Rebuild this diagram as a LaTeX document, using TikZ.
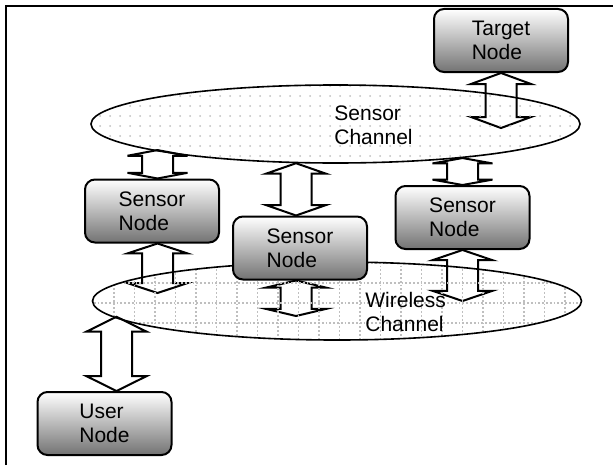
\documentclass[tikz,border=0pt]{standalone}
\usepackage{fontspec}
\setmainfont{Liberation Sans}
\usetikzlibrary{shapes.geometric,calc,backgrounds}

\begin{document}
\begin{tikzpicture}[x=0.5pt,y=-0.5pt,
    unitbox/.style={draw, line width=1pt, rounded corners=5pt, top color=white,
      bottom color=black!55, minimum width=67pt, minimum height=31.5pt,
      inner sep=0pt, align=left, font=\fontsize{10.5}{12}\selectfont},
    chan/.style={draw, ellipse, line width=0.8pt, inner sep=0pt,
      minimum width=244.5pt, minimum height=39pt},
    chantext/.style={anchor=west, inner sep=0pt, align=left,
      font=\fontsize{10.5}{12}\selectfont},
    link/.style={draw, line width=1pt, fill=white,
      to path={let \p1=(\tikztostart), \p2=(\tikztotarget), \n1={0.2*(\y2-\y1)} in
        (\x1,\y1) -- (\x1+15pt,\y1+\n1) -- (\x1+7.75pt,\y1+\n1) -- (\x1+7.75pt,\y2-\n1)
        -- (\x1+15pt,\y2-\n1) -- (\x1,\y2) -- (\x1-15pt,\y2-\n1) -- (\x1-7.75pt,\y2-\n1)
        -- (\x1-7.75pt,\y1+\n1) -- (\x1-15pt,\y1+\n1) -- cycle}},
    gridline/.style={gray!50, line width=0.9pt, dash pattern=on 0.9pt off 1pt}]

% canvas and frame
\useasboundingbox (0,0) rectangle (613,465);
\draw[line width=1pt] (6,465) |- (613,6);

% channels
\node[chan] (sch) at (335.5,124) {};
\node[chan] (wch) at (337,301) {};

% nodes
\node[unitbox] (tgt) at (501,40.5) {Target\\Node};
\node[unitbox] (sn1) at (152,211) {Sensor\\Node};
\node[unitbox] (sn2) at (300,248) {Sensor\\Node};
\node[unitbox] (sn3) at (462.5,217.5) {Sensor\\Node};
\node[unitbox] (usr) at (104.5,423.5) {User\\Node};

% channel labels
\node[chantext] (schlbl) at (334,125) {Sensor\\Channel};
\node[chantext] (wchlbl) at (365,311.5) {Wireless\\Channel};

\begin{scope}[on background layer]
  % links
  \draw[link] (tgt.south) to ([yshift=-2pt]sch.center);
  \draw[link] ([xshift=2.75pt]sn1.north) to (sch.188.5);
  \draw[link] ([xshift=-2pt]sn2.north) to (sch.224.3);
  \draw[link] (sn3.north) to (sch.345.3);
  \draw[link] ([xshift=2.75pt]sn1.south) to ([yshift=4pt]wch.center);
  \draw[link] ([xshift=-2pt]sn2.south) to ([yshift=-7.5pt]wch.center);
  \draw[link] (sn3.south) to (wch.center);
  \draw[link] ([xshift=6pt]usr.north) to (wch.184.3);

  % dotted grid of the wireless channel
  \begin{scope}
    \clip (337,301) ellipse (244 and 39);
    \foreach \i in {0,...,25}
      \draw[gridline] (73+20.5*\i,258) -- (73+20.5*\i,345);
    \foreach \j in {0,...,3}
      \draw[gridline] (90,263+20*\j) -- (585,263+20*\j);
  \end{scope}

  % dotted fill of the sensor channel
  \begin{scope}
    \clip (335.5,124) ellipse (244.5 and 39);
    \foreach \i in {0,...,49}
      \foreach \j in {0,...,8}
        \fill[gray!50] (90+10*\i,86+10*\j) circle (0.5pt);
  \end{scope}
\end{scope}

\end{tikzpicture}
\end{document}
